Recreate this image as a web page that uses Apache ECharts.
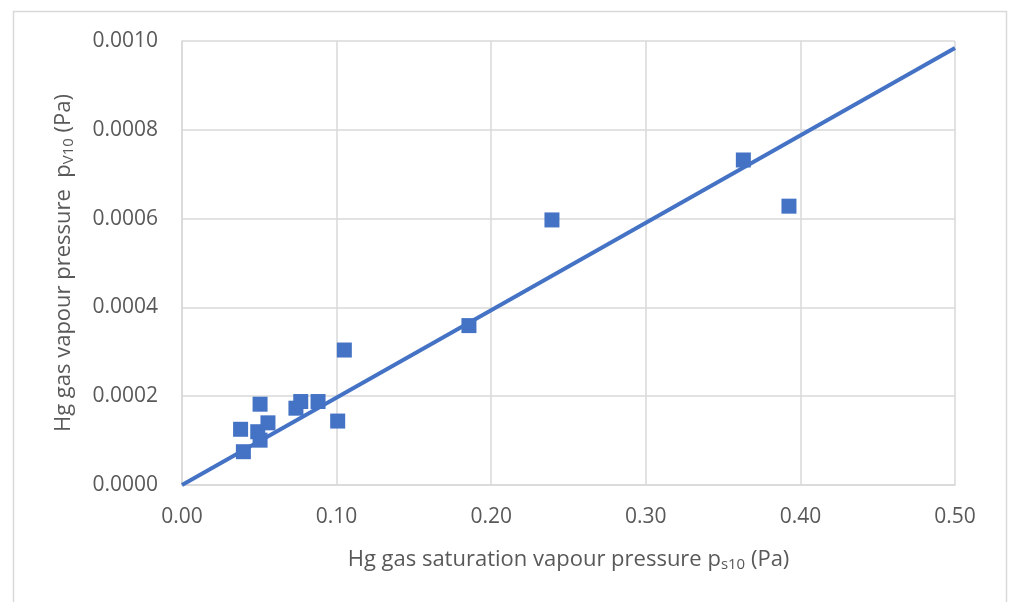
<!DOCTYPE html>
<html>
<head>
<meta charset="utf-8">
<script src="https://cdn.jsdelivr.net/npm/echarts@6/dist/echarts.min.js"></script>
<style>
html,body{margin:0;padding:0;background:#fff;}
#chart{width:1009px;height:602px;}
</style>
</head>
<body>
<div id="chart"></div>
<script>
// Measured points: saturation vapour pressure ps10 (Pa) vs vapour pressure pv10 (Pa)
const satPressure = [0.0379, 0.0397, 0.049, 0.0505, 0.0505, 0.0556, 0.0737, 0.0768, 0.088, 0.1007, 0.105, 0.1856, 0.2393, 0.3631, 0.3926];
const vapPressure = [0.0001255, 0.000075, 0.00012, 0.000182, 0.000101, 0.00014, 0.000173, 0.000188, 0.000188, 0.000144, 0.000304, 0.000359, 0.000597, 0.000732, 0.000628];
// Trend line end points
const trendX = [0, 0.5];
const trendY = [0, 0.000984];

const chart = echarts.init(document.getElementById('chart'), null, {renderer: 'canvas'});
const font = '"Open Sans", "Liberation Sans", sans-serif';
const textColor = '#595959';
const gridColor = '#d9d9d9';

chart.setOption({
  animation: false,
  backgroundColor: '#fff',
  graphic: [{
    type: 'rect',
    shape: {x: 13.5, y: 11.5, width: 993, height: 600},
    style: {fill: 'none', stroke: gridColor, lineWidth: 1.5},
    silent: true
  }],
  grid: {left: 182, top: 41, right: 54, bottom: 117},
  xAxis: {
    type: 'value', min: 0, max: 0.5, interval: 0.1,
    axisLine: {show: true, lineStyle: {color: gridColor, width: 1.5}},
    axisTick: {show: false},
    splitLine: {show: true, lineStyle: {color: gridColor, width: 1.5}},
    axisLabel: {color: textColor, fontSize: 21, fontFamily: font, margin: 22,
      formatter: v => v.toFixed(2)},
    name: '{n|Hg gas saturation vapour pressure p}{s|s10}{n| (Pa)}',
    nameLocation: 'middle', nameGap: 63,
    nameTextStyle: {
      rich: {
        n: {color: textColor, fontSize: 22, fontFamily: font},
        s: {color: textColor, fontSize: 15, fontFamily: font, verticalAlign: 'bottom', padding: [9, 0, 0, 0]}
      }
    }
  },
  yAxis: {
    type: 'value', min: 0, max: 0.001, interval: 0.0002,
    axisLine: {show: true, lineStyle: {color: gridColor, width: 1.5}},
    axisTick: {show: false},
    splitLine: {show: true, lineStyle: {color: gridColor, width: 1.5}},
    axisLabel: {color: textColor, fontSize: 21, fontFamily: font, margin: 24,
      formatter: v => v.toFixed(4)},
    name: '{n|Hg gas vapour pressure  p}{s|V10}{n| (Pa)}',
    nameLocation: 'middle', nameGap: 106, nameRotate: 90,
    nameTextStyle: {
      rich: {
        n: {color: textColor, fontSize: 22, fontFamily: font},
        s: {color: textColor, fontSize: 15, fontFamily: font, verticalAlign: 'bottom', padding: [9, 0, 0, 0]}
      }
    }
  },
  series: [
    {
      type: 'line',
      data: trendX.map((x, i) => [x, trendY[i]]),
      symbol: 'none',
      lineStyle: {color: '#4472C4', width: 4},
      z: 2
    },
    {
      type: 'scatter',
      data: satPressure.map((x, i) => [x, vapPressure[i]]),
      symbol: 'rect',
      symbolSize: 15,
      itemStyle: {color: '#4472C4', opacity: 1},
      z: 3
    }
  ]
});
</script>
</body>
</html>
